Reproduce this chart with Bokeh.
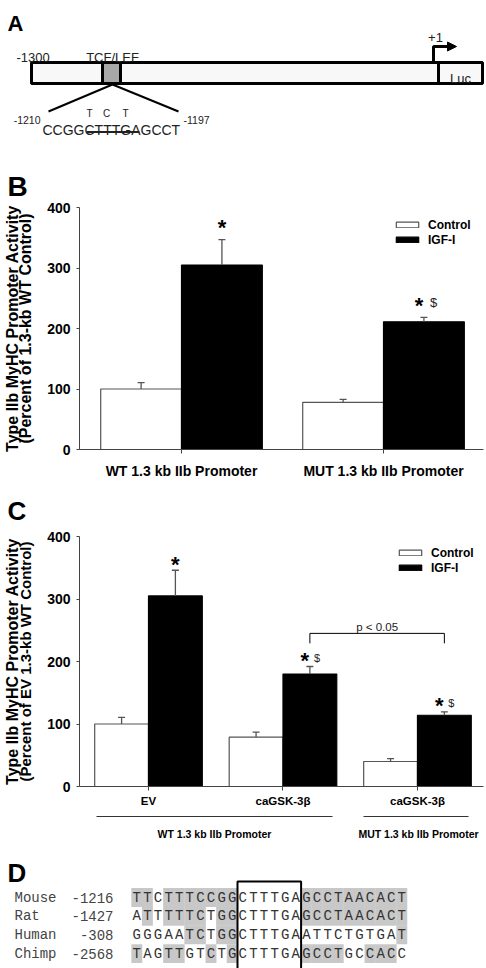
import numpy as np
from bokeh.plotting import figure
from bokeh.models import (Range1d, FixedTicker, ColumnDataSource, Whisker, TeeHead,
                          Legend, LegendItem, LinearAxis, Title)
from bokeh.layouts import column, row
from bokeh.embed import file_html
from bokeh.resources import INLINE
from bokeh.core.properties import value

SANS = value("Liberation Sans")
MONO = value("Liberation Mono")

# ---------------- data ----------------
series_names = ["Control", "IGF-I"]
y_ticks = [0, 100, 200, 300, 400]
y_label_1 = "Type IIb MyHC Promoter Activity"

# Panel B
b_groups = ["WT 1.3 kb IIb Promoter", "MUT 1.3 kb IIb Promoter"]
b_control = [100, 78]
b_control_err = [10.5, 5]
b_igf = [305, 211]
b_igf_err = [42, 7.5]
b_marks = ["*", "*$"]
b_y_label_2 = "(Percent of 1.3-kb WT Control)"

# Panel C
c_groups = ["EV", "caGSK-3β", "caGSK-3β"]
c_control = [100, 79, 40]
c_control_err = [10.5, 8, 4.5]
c_igf = [305, 180, 114]
c_igf_err = [41, 12, 5.5]
c_marks = ["*", "*$", "*$"]
c_promoters = ["WT 1.3 kb IIb Promoter", "MUT 1.3 kb IIb Promoter"]
c_pair = [1, 2]
c_pair_label = "p < 0.05"
c_pair_height = 245
c_y_label_2 = "(Percent of EV 1.3-kb WT Control)"

# Panel A
a_start = "-1300"
a_site = "TCF/LEF"
a_tss = "+1"
a_reporter = "Luc"
a_seq = "CCGGCTTTGAGCCT"
a_seq_start = "-1210"
a_seq_end = "-1197"
a_mutations = ["T", "C", "T"]

# Panel D
d_species = ["Mouse", "Rat", "Human", "Chimp"]
d_positions = ["-1216", "-1427", "-308", "-2568"]
d_alignment = ["TTCTTTCCGGCTTTGAGCCTAACACT",
               "ATTTTTCTGGCTTTGAGCCTAACACT",
               "GGGAATCTGGCTTTGAATTCTGTGAT",
               "TAGTTGTCTGCTTTGAGCCTGCCACC"]
d_core = "CTTTGA"


# ---------------- helpers ----------------
def canvas(x0, x1, y0, y1):
    p = figure(width=int(x1 - x0), height=int(y1 - y0),
               x_range=Range1d(x0, x1), y_range=Range1d(y1, y0),
               x_axis_location=None, y_axis_location=None,
               output_backend="svg", toolbar_location=None, min_border=0)
    p.grid.visible = False
    p.outline_line_color = None
    return p


def txt(p, x, y, s, size, bold=False, align="left", baseline="alphabetic",
        font=SANS, color="#111111", angle=0.0):
    p.text(x=[x], y=[y], text=[s], text_font=font, text_font_size=f"{size}px",
           text_font_style="bold" if bold else "normal", text_align=align,
           text_baseline=baseline, text_color=color, angle=angle)


def bar_chart(groups, ctrl, ctrl_err, igf, igf_err, marks, *, letter, letter_size,
              letter_standoff, label_1, label_2, label_2_size, fig_top, fig_bottom,
              frame_top, frame_bottom, x_start, x_end, xlab_size, xlab_standoff,
              legend_loc, star_dy, dollar_dx, dollar_size):
    frame_left, frame_right = 79, 483
    n = len(groups)
    idx = np.arange(n, dtype=float)
    p = figure(width=486, height=fig_bottom - fig_top, x_range=Range1d(x_start, x_end),
               y_range=Range1d(0, 400), output_backend="svg", toolbar_location=None,
               min_border_left=frame_left, min_border_right=486 - frame_right,
               min_border_top=frame_top - fig_top,
               min_border_bottom=fig_bottom - frame_bottom)
    p.grid.visible = False
    p.outline_line_color = None
    p.title = Title(text=letter, align="left", offset=7 - frame_left,
                    vertical_align="bottom", standoff=letter_standoff,
                    text_font="Liberation Sans", text_font_size=f"{letter_size}px",
                    text_font_style="bold", text_color="black")

    src_c = ColumnDataSource(dict(x=idx - 0.2, top=ctrl,
                                  upper=np.array(ctrl) + np.array(ctrl_err)))
    src_i = ColumnDataSource(dict(x=idx + 0.2, top=igf,
                                  upper=np.array(igf) + np.array(igf_err)))
    r_c = p.vbar(x="x", top="top", bottom=0, width=0.4, source=src_c,
                 fill_color="white", line_color="#555555", line_width=1.2)
    r_i = p.vbar(x="x", top="top", bottom=0, width=0.4, source=src_i,
                 fill_color="black", line_color="black", line_width=1.2)
    for src in (src_c, src_i):
        w = Whisker(source=src, base="x", lower="top", upper="upper", dimension="height",
                    line_color="#555555", line_width=1.3, lower_head=None,
                    upper_head=TeeHead(size=7, line_color="#555555", line_width=1.3),
                    level="overlay")
        p.add_layout(w)

    star_x = list(idx + 0.2)
    star_y = list(np.array(igf) + np.array(igf_err))
    star_dx = [-5 if "$" in m else 0 for m in marks]
    p.text(x=star_x, y=star_y, text=["*"] * n, x_offset=star_dx, y_offset=star_dy,
           text_font=SANS, text_font_style="bold", text_font_size="22px",
           text_align="center", text_baseline="alphabetic", text_color="black")
    dx = [star_x[i] for i in range(n) if "$" in marks[i]]
    dy = [star_y[i] for i in range(n) if "$" in marks[i]]
    p.text(x=dx, y=dy, text=["$"] * len(dx), x_offset=dollar_dx, y_offset=star_dy - 3,
           text_font=SANS, text_font_size=f"{dollar_size}px", text_align="left",
           text_baseline="alphabetic", text_color="#222222")

    legend = Legend(items=[LegendItem(label=series_names[0], renderers=[r_c]),
                           LegendItem(label=series_names[1], renderers=[r_i])],
                    location=legend_loc, orientation="vertical",
                    border_line_color=None, background_fill_alpha=0,
                    padding=0, margin=0, spacing=0, glyph_width=28, glyph_height=7,
                    label_height=15, label_standoff=7,
                    label_text_font="Liberation Sans", label_text_font_style="bold",
                    label_text_font_size="12px", label_text_color="black")
    p.add_layout(legend)

    p.yaxis.ticker = FixedTicker(ticks=y_ticks)
    p.yaxis.major_tick_out = 3
    p.yaxis.major_tick_in = 0
    p.yaxis.minor_tick_line_color = None
    p.yaxis.major_label_standoff = 6
    p.yaxis.axis_label = label_2
    p.yaxis.axis_label_standoff = 10
    p.yaxis.axis_label_text_font_size = f"{label_2_size}px"
    p.xaxis.ticker = FixedTicker(ticks=list(idx))
    p.xaxis.major_label_overrides = {int(i): g for i, g in enumerate(groups)}
    p.xaxis.major_tick_out = 4
    p.xaxis.major_tick_in = 0
    p.xaxis.minor_tick_line_color = None
    p.xaxis.major_label_standoff = xlab_standoff
    p.xaxis.major_label_text_font_size = f"{xlab_size}px"
    p.yaxis.major_label_text_font_size = "14px"

    outer = LinearAxis(ticker=FixedTicker(ticks=[]), axis_label=label_1,
                       axis_line_color=None, major_tick_line_color=None,
                       minor_tick_line_color=None, major_tick_out=0, major_tick_in=0,
                       minor_tick_out=0, major_label_standoff=0,
                       major_label_text_font_size="0px", axis_label_standoff=-6,
                       axis_label_text_font_size="16px")
    p.add_layout(outer, "left")

    for ax in (p.xaxis[0], p.yaxis[0], outer):
        ax.major_label_text_font = "Liberation Sans"
        ax.major_label_text_font_style = "bold"
        ax.major_label_text_color = "black"
        ax.axis_label_text_font = "Liberation Sans"
        ax.axis_label_text_font_style = "bold"
        ax.axis_label_text_color = "black"
    for ax in (p.xaxis[0], p.yaxis[0]):
        ax.axis_line_color = "#444444"
        ax.major_tick_line_color = "#444444"
    return p, idx


# ---------------- Panel A ----------------
pa = canvas(0, 486, 0, 160)
txt(pa, 7, 23, "A", 22, bold=True, color="black")
pa.quad(left=[31], right=[482], top=[62], bottom=[83], fill_color="#f8f8f8",
        line_color="black", line_width=3)
pa.segment(x0=[438], y0=[62], x1=[438], y1=[83], line_color="black", line_width=3)
pa.quad(left=[102], right=[120], top=[62], bottom=[83], fill_color="#a8a8a8",
        line_color="black", line_width=3)
txt(pa, 460, 78, a_reporter, 13, align="center", color="#222222")
txt(pa, 16, 57, a_start, 13, color="#222222")
txt(pa, 112, 57, a_site, 13, align="center", color="#222222")
txt(pa, 435, 37, a_tss, 13, align="center", color="#222222")
pa.line(x=[433, 433, 449], y=[62, 46, 46], line_color="black", line_width=3)
pa.patch(x=[447, 456, 447], y=[41.5, 46, 50.5], fill_color="black", line_color="black")
pa.segment(x0=[112, 112], y0=[84, 84], x1=[48, 178], y1=[111, 111],
           line_color="black", line_width=2)
txt(pa, 42, 129, a_seq, 14, color="#222222")
txt(pa, 40, 119, a_seq_start, 10.5, align="right", color="#222222")
txt(pa, 183, 119, a_seq_end, 10.5, color="#222222")
for xm, m in zip([89, 106, 125], a_mutations):
    txt(pa, xm, 113, m, 10, align="center", color="#222222")
pa.segment(x0=[86], y0=[131.5], x1=[139], y1=[131.5], line_color="#222222", line_width=2)

# ---------------- Panel B ----------------
pb, b_idx = bar_chart(
    b_groups, b_control, b_control_err, b_igf, b_igf_err, b_marks,
    letter="B", letter_size=28, letter_standoff=12, label_1=y_label_1,
    label_2=b_y_label_2, label_2_size=16, fig_top=160, fig_bottom=482,
    frame_top=207, frame_bottom=449, x_start=-0.505, x_end=1.495, xlab_size=14,
    xlab_standoff=9, legend_loc=(314, 202), star_dy=-12, dollar_dx=6, dollar_size=13)

# ---------------- Panel C ----------------
pc, c_idx = bar_chart(
    c_groups, c_control, c_control_err, c_igf, c_igf_err, c_marks,
    letter="C", letter_size=26, letter_standoff=22, label_1=y_label_1,
    label_2=c_y_label_2, label_2_size=15, fig_top=482, fig_bottom=812,
    frame_top=536, frame_bottom=786, x_start=-0.513, x_end=2.491, xlab_size=11.5,
    xlab_standoff=4, legend_loc=(317, 211), star_dy=-6, dollar_dx=4, dollar_size=11)
bx = [c_idx[c_pair[0]] + 0.2, c_idx[c_pair[1]] + 0.2]
pc.line(x=[bx[0], bx[0], bx[1], bx[1]],
        y=[c_pair_height - 16, c_pair_height, c_pair_height, c_pair_height - 16],
        line_color="black", line_width=1)
pc.text(x=[(bx[0] + bx[1]) / 2], y=[c_pair_height], text=[c_pair_label], y_offset=-6,
        text_font=SANS, text_font_size="11.5px", text_align="center",
        text_baseline="alphabetic", text_color="#222222")

# ---------------- Panel D (with group labels of C) ----------------
pd_ = canvas(0, 486, 812, 968)
pd_.segment(x0=[96, 363], y0=[816, 816], x1=[332, 468], y1=[816, 816],
            line_color="#333333", line_width=1)
txt(pd_, 214, 833, c_promoters[0], 10.5, bold=True, align="center", color="black")
txt(pd_, 418, 833, c_promoters[1], 10.5, bold=True, align="center", color="black")
txt(pd_, 7, 872, "D", 26, bold=True, color="black")

row_y = [897 + 18.7 * r for r in range(len(d_species))]
col_w = 10.6
seq_x0 = 131
mouse = d_alignment[0]
box0 = mouse.find(d_core)
box1 = box0 + len(d_core)
sx, sy, lx, ly, lt = [], [], [], [], []
for r, seq in enumerate(d_alignment):
    for j, ch in enumerate(seq):
        cx = seq_x0 + (j + 0.5) * col_w
        lx.append(cx); ly.append(row_y[r]); lt.append(ch)
        if box0 <= j < box1:
            continue
        same = [k for k in range(len(d_alignment)) if d_alignment[k][j] == mouse[j]]
        if ch == mouse[j] and len(same) >= 2:
            sx.append(cx); sy.append(row_y[r])
pd_.rect(x=sx, y=sy, width=col_w + 0.3, height=18.9, fill_color="#c8c8c8",
         line_color=None)
pd_.text(x=lx, y=ly, text=lt, text_font=MONO, text_font_size="14px",
         text_align="center", text_baseline="middle", text_color="#333333")
pd_.text(x=[14] * len(d_species), y=row_y, text=d_species, text_font=MONO,
         text_font_size="14px", text_align="left", text_baseline="middle",
         text_color="#444444")
pd_.text(x=[113] * len(d_species), y=row_y, text=d_positions, text_font=MONO,
         text_font_size="14px", text_align="right", text_baseline="middle",
         text_color="#444444")
pd_.quad(left=[seq_x0 + box0 * col_w], right=[seq_x0 + box1 * col_w], top=[881],
         bottom=[975], fill_color=None, line_color="black", line_width=2)

layout = column(pa, row(pb), row(pc), pd_)
open("out.html", "w").write(file_html(layout, INLINE))
